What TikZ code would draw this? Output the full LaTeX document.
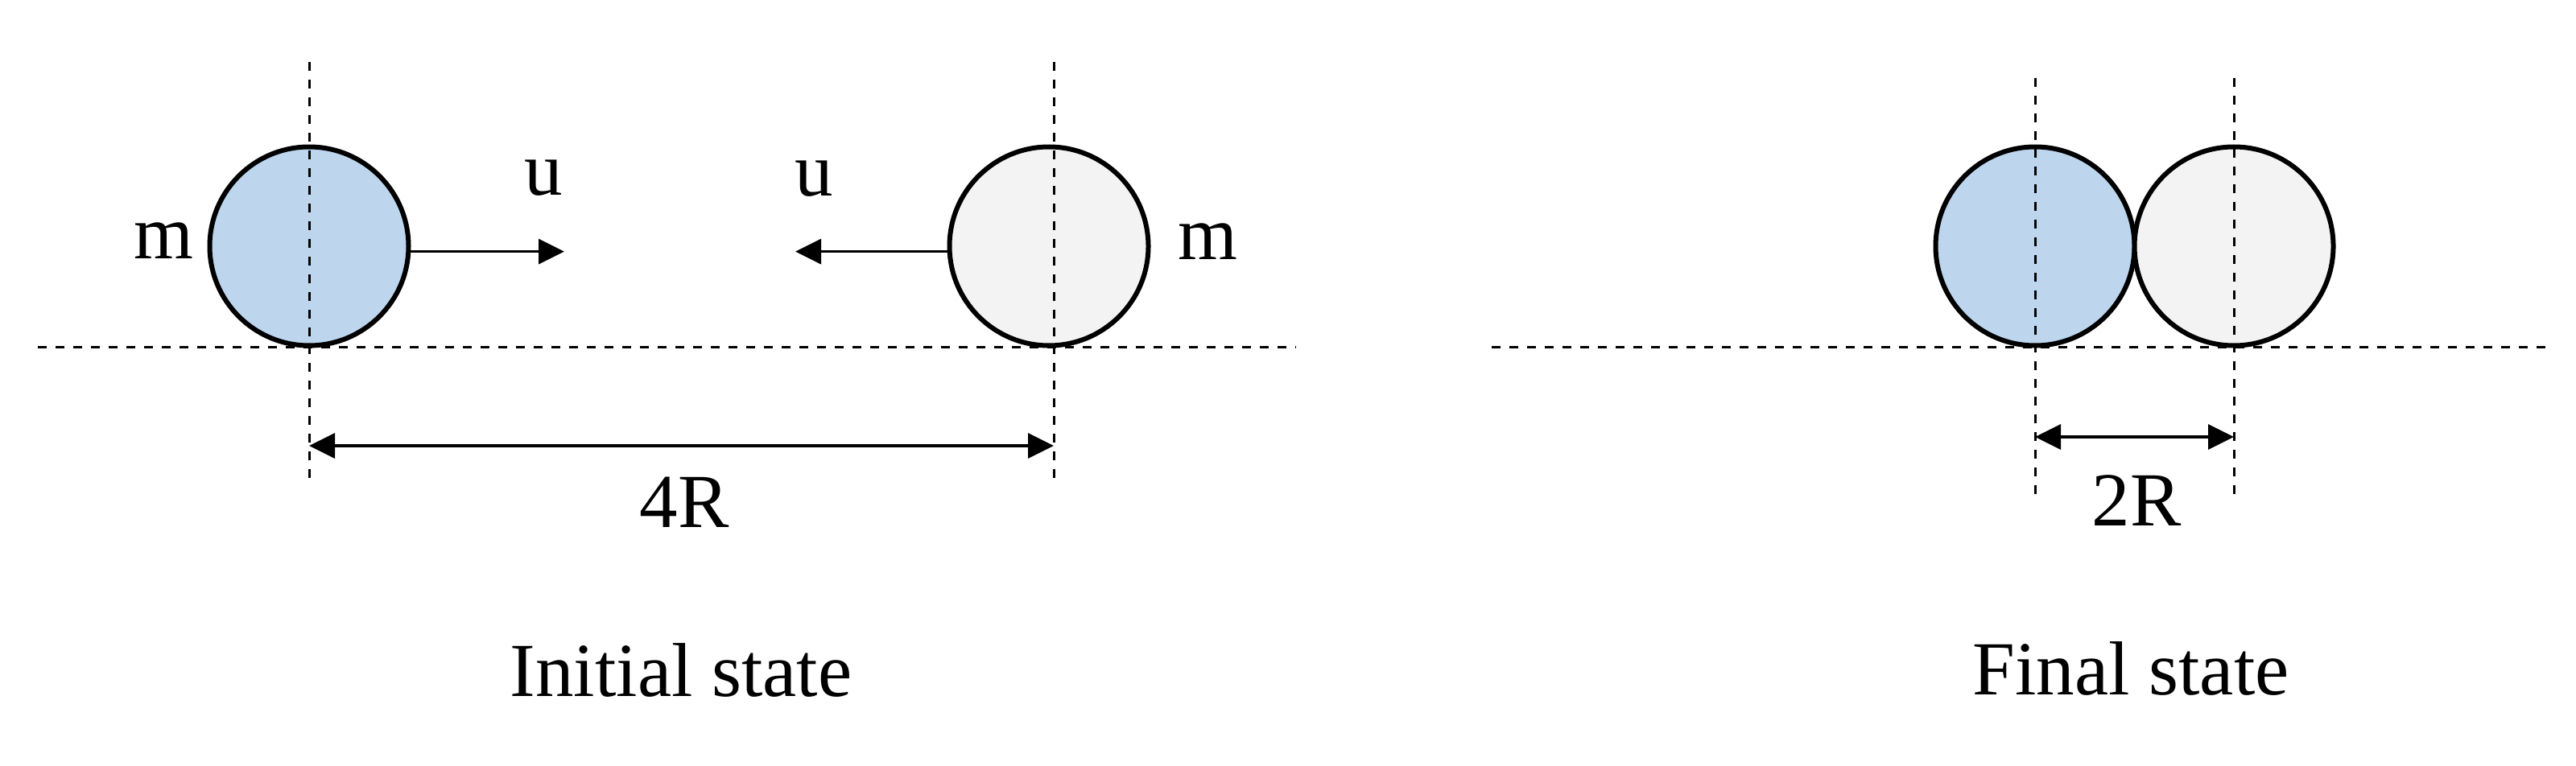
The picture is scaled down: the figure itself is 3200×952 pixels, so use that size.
\documentclass[tikz,border=0pt]{standalone}
\usepackage{fontspec}
\setmainfont{Liberation Serif}
\usetikzlibrary{arrows.meta}
\definecolor{ballblue}{RGB}{189,214,238}
\definecolor{ballgrey}{RGB}{243,243,243}
\tikzset{
  ball/.style={circle, draw=black, line width=6pt, inner sep=0pt, minimum size=247pt},
  guide/.style={line width=3pt, dash pattern=on 11pt off 11pt},
  vel/.style={line width=3.5pt, -{Triangle[length=32pt,width=31pt]}},
  dim/.style={line width=3.5pt, {Triangle[length=32pt,width=31pt]}-{Triangle[length=32pt,width=31pt]}},
  lbl/.style={anchor=base, inner sep=0pt, font=\fontsize{95}{100}\selectfont}
}
\begin{document}
\begin{tikzpicture}[x=1pt, y=-1pt]
\useasboundingbox (0,0) rectangle (3200,952);
% guide line end points
\coordinate (h1a) at (47,431);   \coordinate (h1b) at (1610,431);
\coordinate (h2a) at (1853,431); \coordinate (h2b) at (3162,431);
\coordinate (v1t) at (384,77);   \coordinate (v1b) at (384,604);
\coordinate (v2t) at (1309,77);  \coordinate (v2b) at (1309,604);
\coordinate (v3t) at (2528,97);  \coordinate (v3b) at (2528,625);
\coordinate (v4t) at (2775,97);  \coordinate (v4b) at (2775,625);
% balls
\node[ball, fill=ballblue] (A) at (384,306) {};
\node[ball, fill=ballgrey] (B) at (1303,306) {};
\node[ball, fill=ballblue] (C) at (2528,306) {};
\node[ball, fill=ballgrey] (D) at (2775,306) {};
% dashed guides
\draw[guide] (h1a) -- (h1b);
\draw[guide] (h2a) -- (h2b);
\draw[guide] (v1t) -- (v1b);
\draw[guide] (v2t) -- (v2b);
\draw[guide] (v3t) -- (v3b);
\draw[guide] (v4t) -- (v4b);
% velocity arrows
\coordinate (uA) at (701,312);
\coordinate (uB) at (988,312);
\draw[vel] (A.-3) -- (A.-3 -| uA);
\draw[vel] (B.183) -- (B.183 -| uB);
% dimension arrows
\coordinate (d1a) at (384,554);  \coordinate (d1b) at (1309,554);
\coordinate (d2a) at (2528,543); \coordinate (d2b) at (2775,543);
\draw[dim] (d1a) -- (d1b);
\draw[dim] (d2a) -- (d2b);
% labels
\node[lbl] (mA) at (203,321) {m};
\node[lbl] (uAl) at (675,242) {u};
\node[lbl] (uBl) at (1011,243) {u};
\node[lbl] (mB) at (1500,322) {m};
\node[lbl] (l4R) at (850,655) {4R};
\node[lbl] (l2R) at (2654,653) {2R};
\node[lbl] (init) at (846,865) {Initial state};
\node[lbl] (fin) at (2647,863) {Final state};
\end{tikzpicture}
\end{document}
